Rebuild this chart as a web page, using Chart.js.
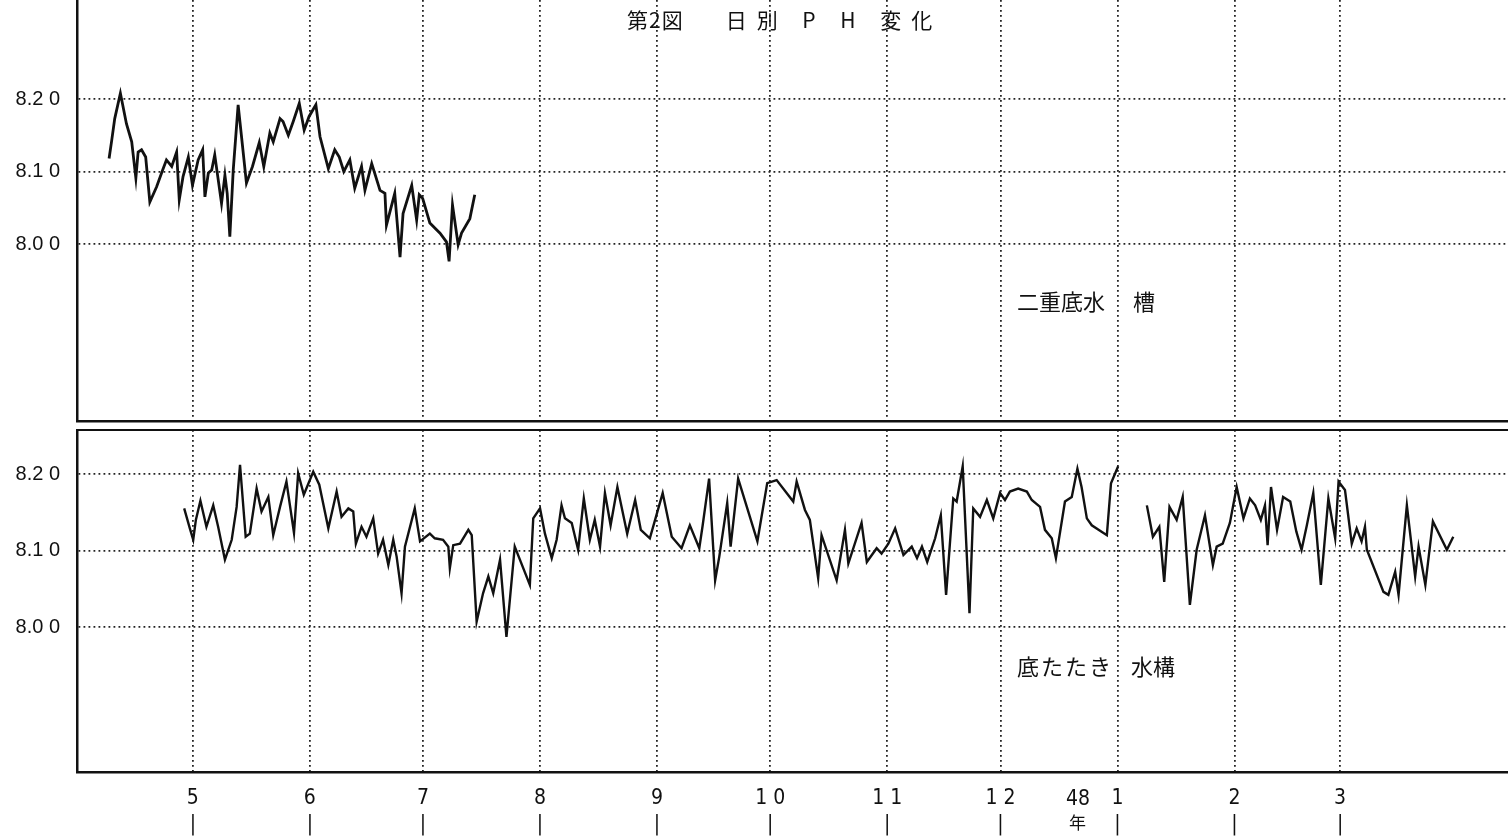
<!DOCTYPE html>
<html>
<head>
<meta charset="utf-8">
<script src="https://cdn.jsdelivr.net/npm/chart.js@4"></script>
<style>
body { margin: 0; background: #fff; width: 1508px; height: 839px; overflow: hidden; position: relative; }
.box { position: absolute; left: 0; }
.lbl { position: absolute; color: #111; white-space: nowrap; font-family: "Noto Sans CJK JP", sans-serif; line-height: 1; }
</style>
</head>
<body>
<div class="box" style="top:0"><canvas id="topChart" width="1508" height="424"></canvas></div>
<div class="box" style="top:428px"><canvas id="botChart" width="1508" height="411"></canvas></div>

<div class="lbl" style="left:627px;top:9px;font-size:21px;letter-spacing:1px;">第2図<span style="margin-left:42px;letter-spacing:10px;">日別 P H 変化</span></div>
<div class="lbl" style="left:1017px;top:289px;font-size:22px;">二重底水<span style="margin-left:28px;">槽</span></div>
<div class="lbl" style="left:1017px;top:654px;font-size:22px;"><span style="letter-spacing:2px;">底たたき</span><span style="margin-left:18px;">水構</span></div>
<div class="lbl" style="left:1066px;top:788px;font-size:21px;font-family:'Liberation Sans Narrow','DejaVu Sans Condensed',sans-serif;">48</div>
<div class="lbl" style="left:1069px;top:813px;font-size:17px;">年</div>

<script>
// 日付は 4/1 からの日数
const monthDays = [30, 61, 91, 122, 153, 183, 214, 244, 275, 306, 334];
const monthLabels = ["5", "6", "7", "8", "9", "1 0", "1 1", "1 2", "1", "2", "3"];
const phTicks = [8.0, 8.1, 8.2];

// 二重底水槽
const topDays = [7.8,8.5,9.3,10.8,12.4,13.8,14.9,15.5,16.4,17.5,18.6,20.4,22.0,23.0,24.4,25.7,26.4,27.4,28.8,29.9,
  31.4,32.6,33.2,34.1,35.0,35.8,37.6,38.5,39.1,39.8,40.7,42.0,42.9,44.2,45.8,47.6,48.8,50.4,51.3,53.1,
  53.9,55.3,56.6,58.2,59.5,60.8,62.6,63.7,65.9,67.6,68.8,70.0,71.6,72.9,74.7,75.6,77.4,79.6,80.9,81.3,
  83.5,84.9,85.7,88.0,89.3,90.0,90.9,92.8,95.5,97.2,97.9,98.8,100.3,101.2,103.4,104.7];
const topPH = [8.118,8.143,8.173,8.208,8.166,8.141,8.091,8.127,8.130,8.120,8.058,8.079,8.102,8.116,8.107,8.127,8.061,8.093,8.120,8.081,
  8.116,8.130,8.065,8.098,8.102,8.123,8.056,8.095,8.070,8.010,8.102,8.192,8.148,8.084,8.107,8.140,8.107,8.153,8.141,8.173,
  8.169,8.150,8.169,8.194,8.157,8.176,8.192,8.148,8.104,8.130,8.120,8.100,8.116,8.077,8.107,8.074,8.111,8.074,8.070,8.026,
  8.070,7.982,8.042,8.081,8.033,8.068,8.063,8.029,8.015,8.003,7.976,8.054,7.999,8.015,8.035,8.068];

// 底たたき水構
const botDays = [27.7,29.2,30.1,30.8,32.0,33.6,35.4,36.7,38.5,40.3,41.6,42.5,44.0,45.1,46.9,48.2,50.0,51.3,53.1,54.8,
  56.8,57.9,59.4,61.9,63.5,65.9,68.1,69.4,71.2,72.5,73.2,74.7,76.0,77.8,79.1,80.4,81.8,83.1,84.0,85.3,
  86.2,88.8,90.2,92.8,94.1,96.3,97.7,98.1,99.0,100.8,103.0,103.9,105.2,106.9,108.3,109.6,111.4,113.1,115.3,119.3,
  120.2,122.0,123.3,125.1,126.4,127.7,128.6,130.4,132.1,133.6,135.2,136.5,137.9,139.2,140.7,142.5,145.1,147.2,148.7,151.1,
  154.5,156.9,159.5,161.7,164.2,165.1,166.8,168.4,169.5,171.6,172.5,174.5,176.8,179.6,182.2,184.7,189.1,190.0,192.2,193.5,
  195.7,196.6,200.6,202.8,203.7,207.2,208.6,211.2,212.5,214.3,216.1,218.3,220.5,221.9,223.2,224.6,226.7,228.2,229.6,231.5,
  232.4,234.0,235.8,236.8,238.6,240.4,242.1,243.9,245.2,246.5,248.7,251.0,252.3,254.5,255.8,257.6,258.7,261.1,262.9,264.4,
  265.5,266.9,268.2,272.2,273.3,275.2,279,
  282.8,284.4,286.1,287.4,288.8,290.7,292.3,294.2,296.0,298.2,300.3,301.3,302.9,304.8,306.6,308.4,310.1,311.5,313.0,314.1,
  314.8,315.7,317.3,318.9,320.8,322.4,323.8,325.2,326.9,328.9,330.9,332.7,333.6,335.3,337.1,338.4,339.7,340.6,341.1,345.5,
  346.8,348.6,349.5,351.7,353.9,354.8,356.6,358.6,362.3,364.0];
const botPH = [8.155,8.129,8.114,8.140,8.165,8.131,8.159,8.131,8.088,8.114,8.157,8.212,8.118,8.122,8.181,8.151,8.170,8.120,8.157,8.190,
  8.123,8.201,8.173,8.203,8.186,8.129,8.177,8.144,8.155,8.151,8.109,8.131,8.118,8.142,8.096,8.114,8.081,8.114,8.092,8.044,
  8.105,8.155,8.112,8.122,8.116,8.114,8.105,8.077,8.107,8.109,8.127,8.120,8.007,8.044,8.066,8.044,8.088,7.987,8.105,8.055,
  8.142,8.155,8.122,8.090,8.114,8.159,8.142,8.136,8.101,8.168,8.114,8.140,8.105,8.175,8.133,8.183,8.122,8.166,8.127,8.116,
  8.175,8.118,8.103,8.133,8.103,8.133,8.194,8.061,8.092,8.162,8.105,8.194,8.157,8.112,8.188,8.192,8.164,8.190,8.153,8.140,
  8.064,8.120,8.061,8.127,8.083,8.136,8.085,8.103,8.096,8.109,8.129,8.094,8.105,8.090,8.105,8.085,8.116,8.146,8.042,8.168,
  8.164,8.210,8.018,8.155,8.144,8.166,8.142,8.175,8.166,8.177,8.181,8.177,8.166,8.157,8.127,8.116,8.090,8.164,8.170,8.207,
  8.183,8.142,8.133,8.120,8.188,8.210,null,
  8.159,8.118,8.131,8.059,8.157,8.140,8.170,8.029,8.101,8.146,8.081,8.105,8.109,8.136,8.183,8.142,8.168,8.159,8.140,8.159,
  8.107,8.183,8.127,8.170,8.164,8.125,8.101,8.133,8.175,8.055,8.168,8.116,8.190,8.179,8.109,8.129,8.112,8.131,8.101,8.046,
  8.042,8.072,8.042,8.159,8.066,8.105,8.055,8.138,8.101,8.118];

const yFont = { family: "'Liberation Sans', 'DejaVu Sans', sans-serif", size: 20 };
const xFont = { family: "'Liberation Sans Narrow', 'DejaVu Sans Condensed', sans-serif", size: 21, lineHeight: 1.25 };
const dotGrid = { color: "#222", lineWidth: 1.8, drawTicks: false };
const dotBorder = { display: true, color: "#111", width: 2.5, dash: [1.8, 3.2] };

function toPoints(days, vals) {
    const pts = [];
    for (let i = 0; i < Math.min(days.length, vals.length); i++) {
        pts.push({ x: days[i], y: vals[i] });
    }
    return pts;
}

function makeChart(id, days, vals, yMin, yMax, opts) {
    return new Chart(document.getElementById(id), {
        type: "line",
        data: {
            datasets: [{
                data: toPoints(days, vals),
                borderColor: "#111",
                borderWidth: opts.lineWidth,
                pointRadius: 0,
                tension: 0,
                spanGaps: false
            }]
        },
        options: {
            responsive: false,
            animation: false,
            layout: { padding: opts.padding },
            plugins: { legend: { display: false }, tooltip: { enabled: false } },
            scales: {
                x: {
                    type: "linear",
                    min: -0.7,
                    max: 378.5,
                    afterBuildTicks: s => { s.ticks = monthDays.map(v => ({ value: v })); },
                    afterFit: s => { s.height = opts.xHeight; s.paddingLeft = 0; s.paddingRight = 0; },
                    grid: dotGrid,
                    border: dotBorder,
                    ticks: {
                        display: opts.showX,
                        autoSkip: false,
                        maxRotation: 0,
                        padding: 13,
                        color: "#111",
                        font: xFont,
                        callback: (v, i) => [monthLabels[i], "|"]
                    }
                },
                xTop: {
                    type: "linear",
                    position: "top",
                    display: opts.topBorder,
                    min: -0.7,
                    max: 378.5,
                    afterFit: s => { s.height = 0; },
                    grid: { display: false },
                    border: { display: true, color: "#111", width: 2 },
                    ticks: { display: false }
                },
                y: {
                    min: yMin,
                    max: yMax,
                    afterBuildTicks: s => { s.ticks = phTicks.map(v => ({ value: v })); },
                    afterFit: s => { s.width = 77; s.paddingTop = 0; s.paddingBottom = 0; },
                    grid: dotGrid,
                    border: dotBorder,
                    ticks: {
                        padding: 17,
                        color: "#111",
                        font: yFont,
                        callback: v => v.toFixed(2).replace(/(\d)$/, " $1")
                    }
                }
            }
        }
    });
}

makeChart("topChart", topDays, topPH, 7.7559, 8.3366,
    { lineWidth: 2.8, padding: { top: 0, bottom: 3, right: 0, left: 0 }, xHeight: 0, showX: false, topBorder: false });
makeChart("botChart", botDays, botPH, 7.8105, 8.2575,
    { lineWidth: 2.4, padding: { top: 2, bottom: 0, right: 0, left: 0 }, xHeight: 67, showX: true, topBorder: true });
</script>
</body>
</html>
